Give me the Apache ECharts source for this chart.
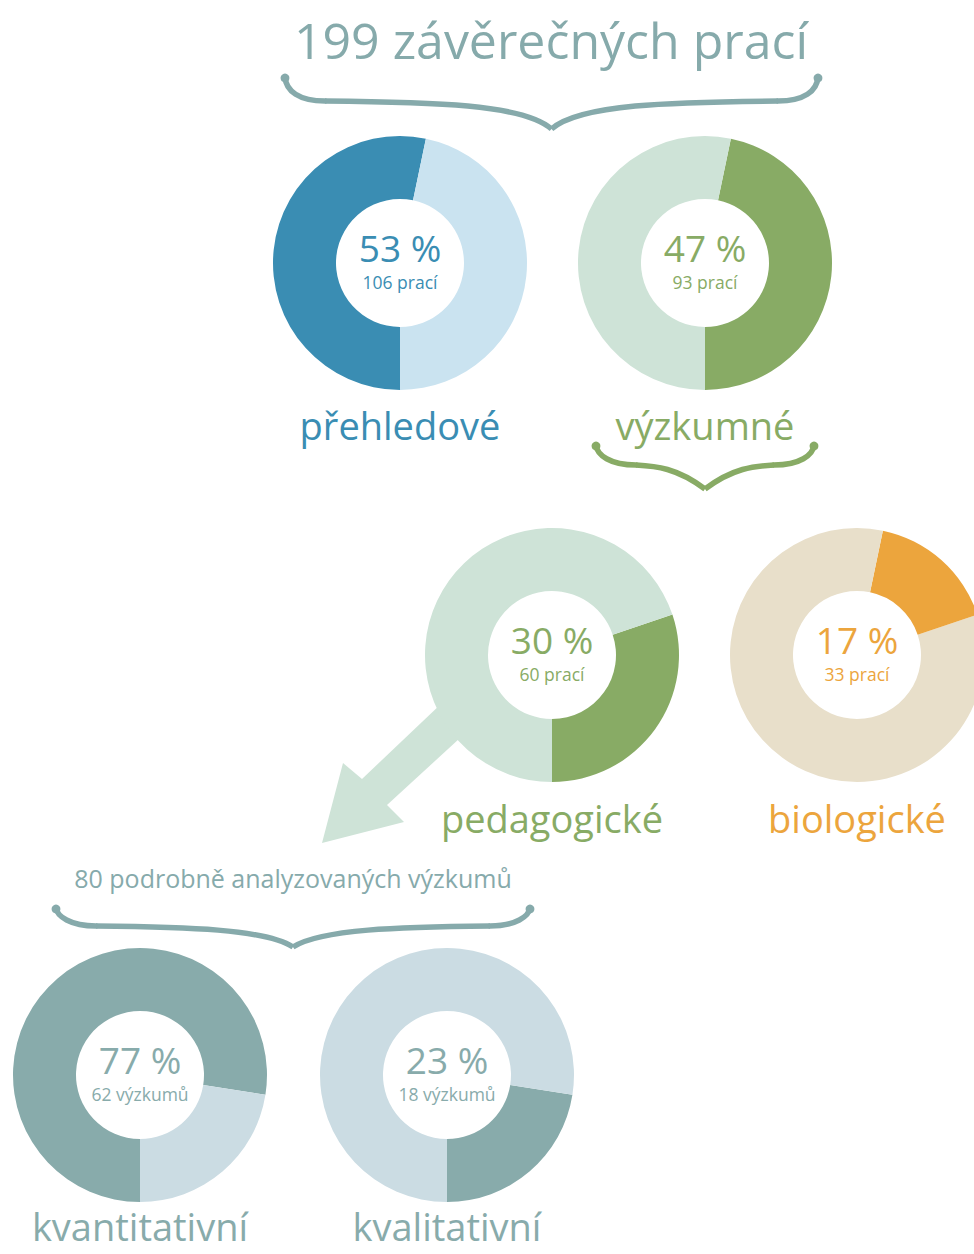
<!DOCTYPE html>
<html>
<head>
<meta charset="utf-8">
<script src="https://cdn.jsdelivr.net/npm/echarts@6/dist/echarts.min.js"></script>
<style>
html,body{margin:0;padding:0;background:#fff;}
#c{width:974px;height:1254px;}
</style>
</head>
<body>
<div id="c"></div>
<script>
// ---- data ----
var title = '199 závěrečných prací';
var subtitle = '80 podrobně analyzovaných výzkumů';
var categories = ['přehledové', 'výzkumné', 'pedagogické', 'biologické', 'kvantitativní', 'kvalitativní'];
var counts = [106, 93, 60, 33, 62, 18];
var totals = [199, 199, 199, 199, 80, 80];
var percents = [53, 47, 30, 17, 77, 23];
var countUnits = ['prací', 'prací', 'prací', 'prací', 'výzkumů', 'výzkumů'];
// offset (value before the highlighted part, drawn in the light colour)
var offsets = [0, 0, 0, 60, 0, 0];

// ---- styling ----
var FONT = '"Open Sans", "Noto Sans", sans-serif';
var teal = '#86aaab';
var styles = [
  {dark: '#3a8db3', light: '#cae3f0', text: '#3a8db3', cx: 400, cy: 263, clockwise: true},
  {dark: '#88ab65', light: '#cee3d7', text: '#88ab65', cx: 705, cy: 263, clockwise: false},
  {dark: '#88ab65', light: '#cee3d7', text: '#88ab65', cx: 552, cy: 655, clockwise: false},
  {dark: '#eca53d', light: '#e8dfca', text: '#eca53d', cx: 857, cy: 655, clockwise: false},
  {dark: '#88abab', light: '#cbdce3', text: '#88abab', cx: 140, cy: 1075, clockwise: true},
  {dark: '#88abab', light: '#cbdce3', text: '#88abab', cx: 447, cy: 1075, clockwise: false}
];
var labelY = [425, 425, 818, 818, 1226, 1226];

var series = [];
var graphics = [];

// arrow (behind pies)
graphics.push({
  type: 'polygon', z: -1,
  shape: {points: [[462, 684], [362, 779], [343, 763], [322, 843], [404, 822], [387, 805], [484, 716]]},
  style: {fill: '#cee3d7'}
});

categories.forEach(function (name, i) {
  var s = styles[i];
  var data = [];
  if (offsets[i] > 0) data.push({value: offsets[i], itemStyle: {color: s.light}});
  data.push({value: counts[i], itemStyle: {color: s.dark}});
  data.push({value: totals[i] - counts[i] - offsets[i], itemStyle: {color: s.light}});
  series.push({
    type: 'pie',
    center: [s.cx, s.cy],
    radius: [64, 127],
    startAngle: 270,
    clockwise: s.clockwise,
    avoidLabelOverlap: false,
    minAngle: 0,
    silent: true,
    label: {show: false},
    labelLine: {show: false},
    emphasis: {disabled: true},
    itemStyle: {borderWidth: 0},
    data: data
  });
  graphics.push({
    type: 'text', x: s.cx, y: s.cy - 16,
    style: {text: percents[i] + ' %', font: '37px ' + FONT, fill: s.text, textAlign: 'center', textVerticalAlign: 'middle'}
  });
  graphics.push({
    type: 'text', x: s.cx, y: s.cy + 19,
    style: {text: counts[i] + ' ' + countUnits[i], font: '17.5px ' + FONT, fill: s.text, textAlign: 'center', textVerticalAlign: 'middle'}
  });
  graphics.push({
    type: 'text', x: s.cx, y: labelY[i],
    style: {text: name, font: '38px ' + FONT, fill: s.text, textAlign: 'center', textVerticalAlign: 'middle'}
  });
});

graphics.push({
  type: 'text', x: 551, y: 40,
  style: {text: title, font: '50px ' + FONT, fill: teal, textAlign: 'center', textVerticalAlign: 'middle'}
});
graphics.push({
  type: 'text', x: 293, y: 878,
  style: {text: subtitle, font: '25px ' + FONT, fill: teal, textAlign: 'center', textVerticalAlign: 'middle'}
});

function brace(x1, x2, yTop, yMid, yTip, color, w) {
  var xc = (x1 + x2) / 2;
  var half = (x2 - x1) / 2;
  var els = [];
  [1, -1].forEach(function (d) {
    var xa = d > 0 ? x1 : x2;
    var xb = xa + d * 40;
    els.push({type: 'bezierCurve', shape: {x1: xa, y1: yTop, cpx1: xa + d * 1, cpy1: yMid - 10, cpx2: xa + d * 14, cpy2: yMid, x2: xb, y2: yMid},
      style: {stroke: color, lineWidth: w, fill: null, lineCap: 'round'}});
    els.push({type: 'bezierCurve', shape: {x1: xb, y1: yMid, cpx1: xc - d * half * 0.45, cpy1: yMid + 1, cpx2: xc - d * 28, cpy2: yMid + 3, x2: xc, y2: yTip},
      style: {stroke: color, lineWidth: w, fill: null, lineCap: 'butt'}});
    els.push({type: 'circle', shape: {cx: xa, cy: yTop + 1, r: w * 0.8}, style: {fill: color}});
  });
  return els;
}
graphics = graphics.concat(brace(285, 818, 77, 101, 129, teal, 5.5));
graphics = graphics.concat(brace(596, 814, 445, 465, 489, '#88ab65', 5.5));
graphics = graphics.concat(brace(56, 530, 908, 926, 947, teal, 5.5));

var chart = echarts.init(document.getElementById('c'), null, {renderer: 'svg'});
chart.setOption({
  animation: false,
  backgroundColor: '#ffffff',
  series: series,
  graphic: {elements: graphics}
});
</script>
</body>
</html>
